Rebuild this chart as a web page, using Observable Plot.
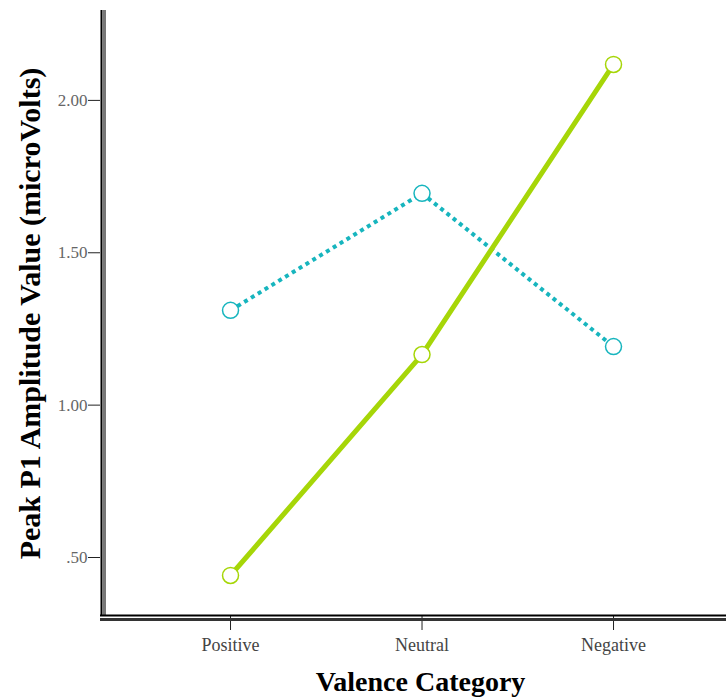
<!DOCTYPE html>
<html>
<head>
<meta charset="utf-8">
<script src="https://cdn.jsdelivr.net/npm/d3@7"></script>
<script src="https://cdn.jsdelivr.net/npm/@observablehq/plot@0.6"></script>
<style>
  html, body { margin: 0; padding: 0; background: #fff; }
  #chart svg { display: block; }
</style>
</head>
<body>
<div id="chart"></div>
<script>
const categories = ["Positive", "Neutral", "Negative"];
const seriesGreen = [0.441, 1.166, 2.118];
const seriesCyan = [1.311, 1.695, 1.192];
const yTicks = [0.5, 1.0, 1.5, 2.0];
const yTickLabels = [".50", "1.00", "1.50", "2.00"];
const xTitle = "Valence Category";
const yTitle = "Peak P1 Amplitude Value (microVolts)";

const greenColor = "#a6d608";
const cyanColor = "#17b5be";

const green = categories.map((c, i) => ({i, v: seriesGreen[i]}));
const cyan = categories.map((c, i) => ({i, v: seriesCyan[i]}));

const xDomain = [-0.679, 2.59];
const yDomain = [0.3064, 2.295];

const chart = Plot.plot({
  width: 726,
  height: 700,
  marginLeft: 100,
  marginRight: 0,
  marginTop: 10,
  marginBottom: 84,
  style: {fontFamily: "'Liberation Serif', serif", background: "#fff"},
  x: {type: "linear", domain: xDomain},
  y: {type: "linear", domain: yDomain},
  marks: [
    Plot.axisY({ticks: yTicks, tickFormat: d => yTickLabels[yTicks.indexOf(d)], tickSize: 12, tickPadding: 1, stroke: "#222", fill: "#666", fontSize: 17, label: null}),
    Plot.axisX({ticks: [0, 1, 2], tickFormat: d => categories[d], tickSize: 14, tickPadding: 8, stroke: "#222", fill: "#444", fontSize: 18, label: null}),
    Plot.ruleX([xDomain[0]], {dx: 1, stroke: "#000", strokeWidth: 2}),
    Plot.ruleX([xDomain[0]], {dx: 4, stroke: "#777", strokeWidth: 3}),
    Plot.ruleY([yDomain[0]], {dy: -1, stroke: "#000", strokeWidth: 2}),
    Plot.ruleY([yDomain[0]], {dy: 3, stroke: "#333", strokeWidth: 3}),
    Plot.line(cyan, {x: "i", y: "v", stroke: cyanColor, strokeWidth: 4, strokeDasharray: "4,4", strokeLinecap: "butt"}),
    Plot.line(green, {x: "i", y: "v", stroke: greenColor, strokeWidth: 5}),
    Plot.dot(cyan, {x: "i", y: "v", r: 8, fill: "white", stroke: cyanColor, strokeWidth: 1.5}),
    Plot.dot(green, {x: "i", y: "v", r: 8, fill: "white", stroke: greenColor, strokeWidth: 1.5}),
    Plot.text([yTitle], {frameAnchor: "left", textAnchor: "middle", lineAnchor: "middle", dx: -70, rotate: -90, fontSize: 30, fontWeight: "bold", fill: "#000"}),
    Plot.text([xTitle], {frameAnchor: "bottom", textAnchor: "middle", lineAnchor: "middle", dx: 7, dy: 66, fontSize: 28, fontWeight: "bold", fill: "#000"})
  ]
});
document.getElementById("chart").appendChild(chart);
</script>
</body>
</html>
